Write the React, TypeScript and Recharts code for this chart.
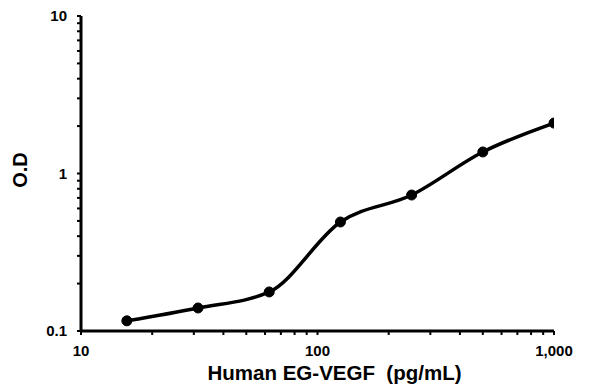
import React from "react";
import { LineChart, Line, XAxis, YAxis } from "recharts";

const concentrations = [15.625, 31.25, 62.5, 125, 250, 500, 1000];
const odValues = [0.116, 0.14, 0.177, 0.492, 0.73, 1.37, 2.09];

const xMajorTicks = [10, 100, 1000];
const xTickLabels = ["10", "100", "1,000"];
const yMajorTicks = [0.1, 1, 10];
const yTickLabels = ["0.1", "1", "10"];

const xMinorTicks = [20, 30, 40, 50, 60, 70, 80, 90, 200, 300, 400, 500, 600, 700, 800, 900];
const yMinorTicks = [0.2, 0.3, 0.4, 0.5, 0.6, 0.7, 0.8, 0.9, 2, 3, 4, 5, 6, 7, 8, 9];

const data = concentrations.map((c, i) => ({ conc: c, od: odValues[i] }));

const FONT = "'Liberation Sans', Arial, sans-serif";

const XTick = (props: any) => {
  const { x, y, payload } = props;
  const idx = xMajorTicks.indexOf(payload.value);
  if (idx < 0) return null;
  return (
    <text x={x} y={y + 19} textAnchor="middle" fontFamily={FONT} fontWeight="bold" fontSize={15} fill="#000">
      {xTickLabels[idx]}
    </text>
  );
};

const YTick = (props: any) => {
  const { x, y, payload } = props;
  const idx = yMajorTicks.findIndex((v) => Math.abs(v - payload.value) < 1e-9);
  if (idx < 0) return null;
  return (
    <text x={x - 8} y={y + 5} textAnchor="end" fontFamily={FONT} fontWeight="bold" fontSize={15} fill="#000">
      {yTickLabels[idx]}
    </text>
  );
};

export default function App() {
  return (
    <div style={{ position: "absolute", left: 0, top: 0, width: 600, height: 392, background: "#fff" }}>
      <LineChart width={600} height={392} data={data} margin={{ top: 16, right: 46, bottom: 0, left: 0 }}>
        <XAxis
          dataKey="conc"
          type="number"
          scale="log"
          domain={[10, 1000]}
          ticks={[...xMajorTicks, ...xMinorTicks].sort((a, b) => a - b)}
          interval={0}
          height={61}
          axisLine={{ stroke: "#000", strokeWidth: 3 }}
          tickLine={{ stroke: "#000", strokeWidth: 2 }}
          tickSize={4}
          tickMargin={2}
          tick={<XTick />}
          allowDataOverflow
        />
        <YAxis
          type="number"
          scale="log"
          domain={[0.1, 10]}
          ticks={[...yMajorTicks, ...yMinorTicks].sort((a, b) => a - b)}
          interval={0}
          width={81}
          axisLine={{ stroke: "#000", strokeWidth: 3 }}
          tickLine={{ stroke: "#000", strokeWidth: 2 }}
          tickSize={4}
          tickMargin={2}
          tick={<YTick />}
          allowDataOverflow
        />
        <Line
          dataKey="od"
          type="monotone"
          stroke="#000"
          strokeWidth={3.5}
          dot={{ r: 5, fill: "#000", stroke: "#000", strokeWidth: 1 }}
          isAnimationActive={false}
        />
      </LineChart>
      <svg width={600} height={392} style={{ position: "absolute", left: 0, top: 0, pointerEvents: "none" }}>
        <text
          x={334.5}
          y={380}
          textAnchor="middle"
          fontFamily={FONT}
          fontWeight="bold"
          fontSize={20.5}
          fill="#000"
          style={{ whiteSpace: "pre" }}
        >
          {"Human EG-VEGF\u00a0\u00a0(pg/mL)"}
        </text>
        <text
          x={27}
          y={170}
          textAnchor="middle"
          fontFamily={FONT}
          fontWeight="bold"
          fontSize={20}
          fill="#000"
          transform="rotate(-90 27 170)"
        >
          O.D
        </text>
      </svg>
    </div>
  );
}
